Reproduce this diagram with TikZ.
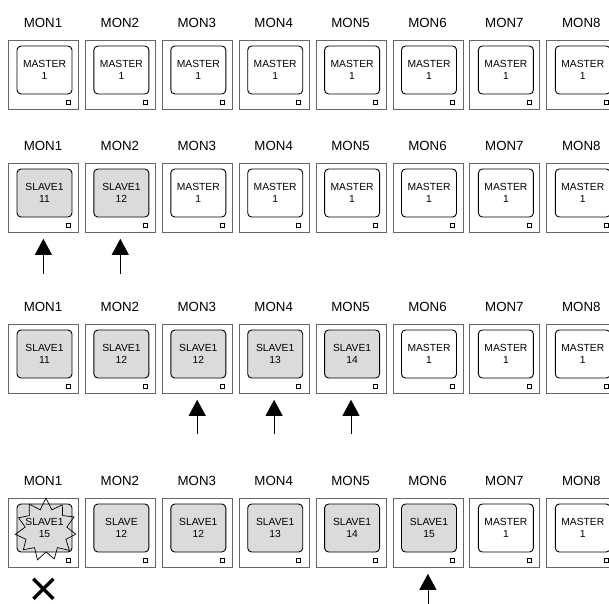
\documentclass[tikz,border=0pt]{standalone}
\usepackage{fontspec}
\setmainfont{Liberation Sans}
\usetikzlibrary{arrows.meta,calc}
\tikzset{
  monframe/.style={draw=black!60, line width=0.8pt, minimum width=70pt, minimum height=69pt, inner sep=0pt, anchor=north west},
  screen/.style={draw=black, line width=0.9pt, rounded corners=4pt, minimum width=55pt, minimum height=48pt, inner sep=0pt, align=center, font=\fontsize{10.3}{12}\selectfont},
  master/.style={screen, fill=white},
  slave/.style={screen, fill=black!14},
  led/.style={draw=black, line width=0.6pt, minimum size=4pt, inner sep=0pt},
  monlabel/.style={font=\fontsize{13.3}{15}\selectfont, inner sep=0pt},
  uparrow/.style={-{Triangle[width=17pt,length=16pt]}, line width=0.8pt},
  crossmark/.style={line width=3.4pt},
  burst/.style={draw=black, line width=0.7pt},
}
\newcommand\mymon[5]{%
  \pgfmathsetmacro\xl{8+76.9*(#2-1)}%
  \node[monframe] (f#1) at (\xl,#3) {};
  \node[#4] (s#1) at ($(f#1.north west)+(36.5,30)$) {#5};
  \node[led] (l#1) at ($(f#1.north west)+(60,62)$) {};
  \node[monlabel] (m#1) at ($(f#1.north west)+(35,-17)$) {MON#2};
}
\begin{document}
\begin{tikzpicture}[x=1pt,y=-1pt]
\useasboundingbox (0,0) rectangle (609,603);
% row 1
\foreach \c in {1,...,8}{\mymon{1-\c}{\c}{40}{master}{MASTER\\1}}
% row 2
\mymon{2-1}{1}{163}{slave}{SLAVE1\\11}
\mymon{2-2}{2}{163}{slave}{SLAVE1\\12}
\foreach \c in {3,...,8}{\mymon{2-\c}{\c}{163}{master}{MASTER\\1}}
% row 3
\mymon{3-1}{1}{324}{slave}{SLAVE1\\11}
\mymon{3-2}{2}{324}{slave}{SLAVE1\\12}
\mymon{3-3}{3}{324}{slave}{SLAVE1\\12}
\mymon{3-4}{4}{324}{slave}{SLAVE1\\13}
\mymon{3-5}{5}{324}{slave}{SLAVE1\\14}
\foreach \c in {6,7,8}{\mymon{3-\c}{\c}{324}{master}{MASTER\\1}}
% row 4
\mymon{4-1}{1}{498}{slave}{SLAVE1\\15}
\mymon{4-2}{2}{498}{slave}{SLAVE\\12}
\mymon{4-3}{3}{498}{slave}{SLAVE1\\12}
\mymon{4-4}{4}{498}{slave}{SLAVE1\\13}
\mymon{4-5}{5}{498}{slave}{SLAVE1\\14}
\mymon{4-6}{6}{498}{slave}{SLAVE1\\15}
\mymon{4-7}{7}{498}{master}{MASTER\\1}
\mymon{4-8}{8}{498}{master}{MASTER\\1}
% arrows
\foreach \r/\c/\e in {2/1/274, 2/2/274, 3/3/434, 3/4/434, 3/5/434, 4/6/606}{
  \coordinate (a\r-\c) at (f\r-\c.south |- 0,\e);
  \draw[uparrow] (a\r-\c) -- ([yshift=-6pt]f\r-\c.south);
}
% cross under failed monitor
\coordinate (x1) at ($(f4-1.south)+(0,21)$);
\draw[crossmark] ($(x1)+(-10,-10)$) -- ($(x1)+(10,10)$);
\draw[crossmark] ($(x1)+(-10,10)$) -- ($(x1)+(10,-10)$);
% burst on MON1
\coordinate (bc) at ($(s4-1.center)+(1.5,2)$);
\draw[burst] ($(bc)+(270:32)$)
  \foreach \a/\r in {286/21,303/30,319/22,335/31,352/21,8/30,25/22,41/31,57/21,74/30,90/22,106/31,123/21,139/30,155/22,172/31,188/21,204/30,221/22,237/31,254/21}{ -- ($(bc)+(\a:\r)$)} -- cycle;
\end{tikzpicture}
\end{document}
